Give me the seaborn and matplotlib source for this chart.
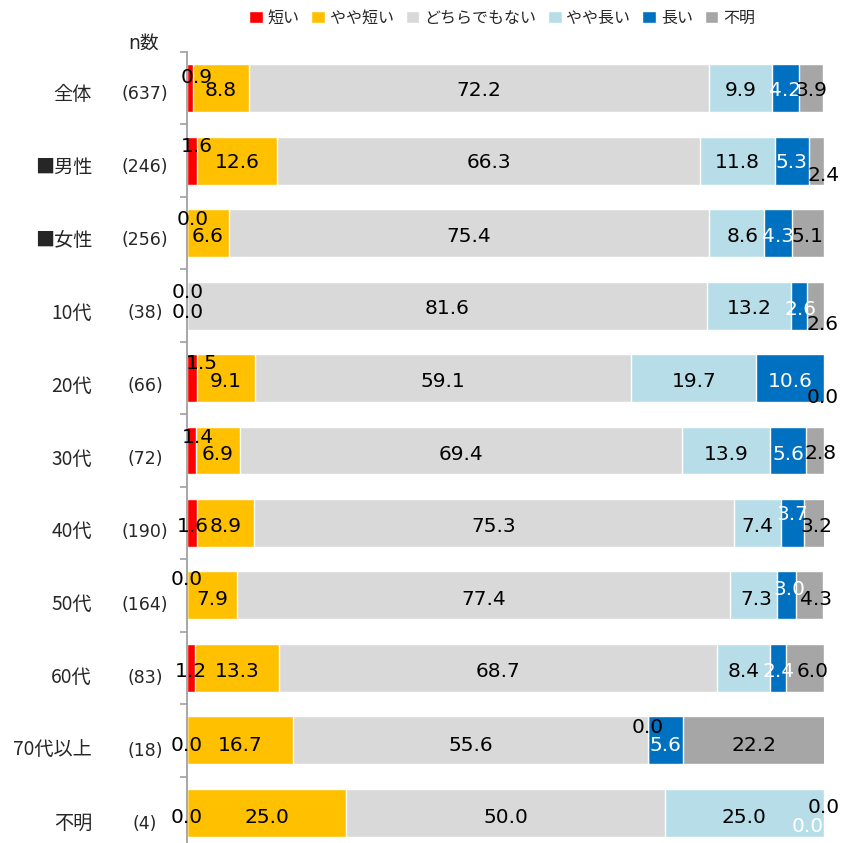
import matplotlib
matplotlib.use('Agg')
import matplotlib.pyplot as plt
import matplotlib.transforms as mtransforms
import seaborn as sns
import pandas as pd
import numpy as np

categories = ['全体', '■男性', '■女性', '10代', '20代', '30代', '40代', '50代', '60代', '70代以上', '不明']
n_counts = ['(637)', '(246)', '(256)', '(38)', '(66)', '(72)', '(190)', '(164)', '(83)', '(18)', '(4)']
answers = ['短い', 'やや短い', 'どちらでもない', 'やや長い', '長い', '不明']
colors = ['#FF0000', '#FFC000', '#D9D9D9', '#B7DEE8', '#0070C0', '#A6A6A6']
text_colors = ['black', 'black', 'black', 'black', 'white', 'black']

short = [0.9, 1.6, 0.0, 0.0, 1.5, 1.4, 1.6, 0.0, 1.2, 0.0, 0.0]
bit_short = [8.8, 12.6, 6.6, 0.0, 9.1, 6.9, 8.9, 7.9, 13.3, 16.7, 25.0]
neither = [72.2, 66.3, 75.4, 81.6, 59.1, 69.4, 75.3, 77.4, 68.7, 55.6, 50.0]
bit_long = [9.9, 11.8, 8.6, 13.2, 19.7, 13.9, 7.4, 7.3, 8.4, 0.0, 25.0]
long_ = [4.2, 5.3, 4.3, 2.6, 10.6, 5.6, 3.7, 3.0, 2.4, 5.6, 0.0]
unknown = [3.9, 2.4, 5.1, 2.6, 0.0, 2.8, 3.2, 4.3, 6.0, 22.2, 0.0]

# label nudges (row, series) -> (dx, dy) in pixels, dy down
nudges = {
    (0, 0): (7, -11), (1, 0): (5, -14), (1, 5): (7, 15),
    (2, 0): (6, -14), (2, 3): (6, 3),
    (3, 0): (1, -13), (3, 1): (1, 7), (3, 4): (1, 4), (3, 5): (7, 19),
    (4, 0): (10, -15), (4, 5): (-1, 19),
    (5, 0): (6, -13), (5, 5): (5, 3),
    (6, 0): (1, 4), (6, 4): (0, -8), (6, 5): (2, 4),
    (7, 0): (0, -16), (7, 3): (3, 4), (7, 4): (3, -6), (7, 5): (6, 4),
    (8, 5): (8, 4),
    (9, 3): (0, -13),
    (10, 4): (-16, 14), (10, 5): (0, -5),
}

sns.set_theme(style='white')
plt.rcParams['font.family'] = ['DejaVu Sans', 'Noto Sans CJK JP']
cjk = ['Noto Sans CJK JP', 'DejaVu Sans']

df = pd.DataFrame({'cat': categories})
series = [short, bit_short, neither, bit_long, long_, unknown]
for name, vals in zip(answers, series):
    df[name] = vals
cum = df[answers].cumsum(axis=1)

fig = plt.figure(figsize=(8.41, 8.43), dpi=100)
ax = fig.add_axes([187 / 841, (843 - 849) / 843, 637 / 841, 797 / 843])

for j in reversed(range(len(answers))):
    sns.barplot(x=cum[answers[j]], y=df['cat'], order=categories, orient='h',
                color=colors[j], width=0.66, saturation=1, ax=ax, label=answers[j])

handles, labels = ax.get_legend_handles_labels()
if ax.get_legend() is not None:
    ax.get_legend().remove()

ax.set_xlim(0, 100)
ax.set_ylim(10.5, -0.5)
ax.set_xlabel('')
ax.set_ylabel('')
ax.set_xticks([])
ax.set_yticks([])
ax.set_yticks(np.arange(-0.5, 11, 1), minor=True)
ax.tick_params(axis='y', which='minor', left=True, length=5, width=1.2, color='#A0A0A0')
for s in ['top', 'right', 'bottom']:
    ax.spines[s].set_visible(False)
ax.spines['left'].set_color('#A0A0A0')
ax.spines['left'].set_linewidth(1.3)

# value labels
for i in range(len(categories)):
    left = 0.0
    for j, name in enumerate(answers):
        v = df.loc[i, name]
        dx, dy = nudges.get((i, j), (0, 2 + round(0.3 * i)))
        ax.annotate(f'{v:.1f}', (left + v / 2, i), xytext=(dx, -dy),
                    textcoords='offset pixels', ha='center', va='center',
                    fontsize=14.5, color=text_colors[j])
        left += v

# category + n labels (sit a little below the bar centres, as in the original)
for i, (c, n) in enumerate(zip(categories, n_counts)):
    off = mtransforms.offset_copy(ax.transData, fig=fig, y=-(6 + 0.5 * i), units='dots')
    trans = mtransforms.blended_transform_factory(fig.transFigure, off)
    ax.text(92 / 841, i, c, transform=trans, ha='right', va='center', fontsize=13.8, family=cjk)
    ax.text(145 / 841, i, n, transform=trans, ha='center', va='center', fontsize=12.5)
fig.text(144 / 841, 1 - 43 / 843, 'n数', ha='center', va='center', fontsize=13.5)

fig.legend(handles[::-1], labels[::-1], loc='center', bbox_to_anchor=(502 / 841, 1 - 18 / 843),
           ncol=6, frameon=False, handlelength=0.85, handleheight=0.85,
           handletextpad=0.3, columnspacing=0.75, prop={'family': cjk, 'size': 11.5})

fig.savefig('out.png', dpi=100)
